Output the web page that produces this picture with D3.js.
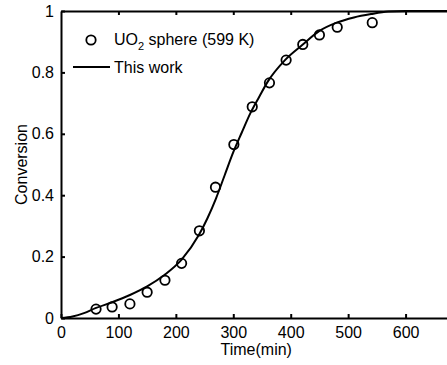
<!DOCTYPE html>
<html>
<head>
<meta charset="utf-8">
<script src="https://cdn.jsdelivr.net/npm/d3@7"></script>
<style>
  html, body { margin: 0; padding: 0; background: #fff; overflow: hidden; }
  svg { display: block; font-family: "Liberation Sans", Arial, sans-serif; }
</style>
</head>
<body>
<div id="chart"></div>
<script>
// measured points (UO2 sphere, 599 K)
const expTime = [61, 89, 120, 150, 181, 210, 241, 269, 301, 333, 363, 392, 421, 450, 481, 542];
const expConv = [0.029, 0.036, 0.046, 0.084, 0.123, 0.178, 0.284, 0.426, 0.565, 0.688, 0.766, 0.840, 0.891, 0.922, 0.947, 0.962];

// model curve ("This work")
const modelTime = [0, 20, 40, 60, 90, 120, 150, 180, 210, 240, 255, 270, 285, 300, 315, 330, 345, 360, 390, 420, 450, 480, 510, 540, 570, 600, 700];
const modelConv = [0, 0.005, 0.016, 0.032, 0.052, 0.075, 0.103, 0.14, 0.19, 0.27, 0.325, 0.39, 0.465, 0.54, 0.605, 0.668, 0.72, 0.77, 0.84, 0.889, 0.935, 0.962, 0.979, 0.99, 0.998, 1, 1];

const xTicks = [0, 100, 200, 300, 400, 500, 600];
const yTicks = [0, 0.2, 0.4, 0.6, 0.8, 1];

const width = 447, height = 365;
const margin = {left: 61, top: 11, bottom: 47};
const plotRight = 463; // plot continues past the window edge

const svg = d3.select('#chart').append('svg')
  .attr('width', width)
  .attr('height', height);

const x = d3.scaleLinear().domain([0, 700]).range([margin.left, plotRight]);
const y = d3.scaleLinear().domain([0, 1]).range([height - margin.bottom, margin.top]);

// model line
const line = d3.line()
  .x((d, i) => x(modelTime[i]))
  .y((d, i) => y(modelConv[i]))
  .curve(d3.curveMonotoneX);

svg.append('path')
  .datum(modelConv)
  .attr('d', line)
  .attr('fill', 'none')
  .attr('stroke', '#000')
  .attr('stroke-width', 2);

// data markers
svg.append('g').selectAll('circle')
  .data(expConv)
  .enter()
  .append('circle')
  .attr('cx', (d, i) => x(expTime[i]))
  .attr('cy', d => y(d))
  .attr('r', 4.7)
  .attr('fill', 'none')
  .attr('stroke', '#000')
  .attr('stroke-width', 1.8);

// axes (ticks point inward)
const fmtY = d => d === 0 ? '0' : d === 1 ? '1' : d3.format('.1f')(d);

const axisB = svg.append('g')
  .attr('transform', `translate(0,${y(0)})`)
  .call(d3.axisBottom(x).tickValues(xTicks).tickSizeInner(-4).tickSizeOuter(0).tickPadding(9));

const axisT = svg.append('g')
  .attr('transform', `translate(0,${y(1)})`)
  .call(d3.axisTop(x).tickValues(xTicks.slice(1)).tickSizeInner(-4).tickSizeOuter(0).tickFormat(''));

const axisL = svg.append('g')
  .attr('transform', `translate(${x(0)},0)`)
  .call(d3.axisLeft(y).tickValues(yTicks).tickSizeInner(-4).tickSizeOuter(0).tickPadding(7).tickFormat(fmtY));

[axisB, axisT, axisL].forEach(g => {
  g.select('.domain').attr('stroke', '#000').attr('stroke-width', 2);
  g.selectAll('.tick line').attr('stroke', '#000').attr('stroke-width', 2);
  g.selectAll('.tick text')
    .attr('fill', '#000')
    .style('font-size', '16px')
    .style('font-family', '"Liberation Sans", Arial, sans-serif');
});

// axis titles
svg.append('text')
  .attr('x', x(340))
  .attr('y', 355)
  .attr('text-anchor', 'middle')
  .style('font-size', '16px')
  .text('Time(min)');

svg.append('text')
  .attr('transform', `translate(27,${(y(0) + y(1)) / 2}) rotate(-90)`)
  .attr('text-anchor', 'middle')
  .style('font-size', '16px')
  .text('Conversion');

// legend
const legend = svg.append('g');
legend.append('circle')
  .attr('cx', 91).attr('cy', 40).attr('r', 4.7)
  .attr('fill', 'none').attr('stroke', '#000').attr('stroke-width', 1.8);
const lt = legend.append('text')
  .attr('x', 114).attr('y', 45)
  .style('font-size', '16px');
lt.append('tspan').text('UO');
lt.append('tspan').attr('dy', 5).style('font-size', '11px').text('2');
lt.append('tspan').attr('dy', -5).text(' sphere (599 K)');

legend.append('line')
  .attr('x1', 73).attr('x2', 110).attr('y1', 67).attr('y2', 67)
  .attr('stroke', '#000').attr('stroke-width', 2);
legend.append('text')
  .attr('x', 114).attr('y', 73)
  .style('font-size', '16px')
  .text('This work');
</script>
</body>
</html>
